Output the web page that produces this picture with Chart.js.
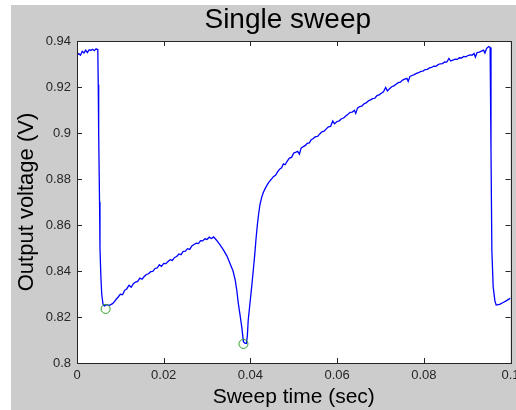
<!DOCTYPE html>
<html>
<head>
<meta charset="utf-8">
<script src="https://cdn.jsdelivr.net/npm/chart.js@4.4.1/dist/chart.umd.min.js"></script>
<style>
  html, body { margin: 0; padding: 0; background: #ffffff; }
  canvas { display: block; }
</style>
</head>
<body>
<canvas id="sweep" width="516" height="410"></canvas>
<script>
// values: [sweep time (s), output voltage (V)]
const sweepTrace = [
  [0.0000, 0.9340], [0.0004, 0.9345], [0.0008, 0.9338], [0.0012, 0.9355], [0.0016, 0.9348],
  [0.0020, 0.9360], [0.0024, 0.9350], [0.0028, 0.9362], [0.0032, 0.9359], [0.0036, 0.9364],
  [0.0040, 0.9358], [0.0044, 0.9366], [0.0048, 0.9362],
  [0.0049, 0.9210], [0.0050, 0.9000], [0.0052, 0.8700], [0.0053, 0.8500], [0.0055, 0.8380],
  [0.0057, 0.8300], [0.0060, 0.8255], [0.0063, 0.8248], [0.0068, 0.8254], [0.0075, 0.8251],
  [0.0082, 0.8258],
  [0.0085, 0.8264], [0.0090, 0.8276], [0.0095, 0.8287], [0.0100, 0.8299], [0.0105, 0.8297],
  [0.0110, 0.8316], [0.0115, 0.8323], [0.0120, 0.8338], [0.0125, 0.8329], [0.0130, 0.8345],
  [0.0135, 0.8352], [0.0140, 0.8355], [0.0145, 0.8369], [0.0150, 0.8364], [0.0155, 0.8376],
  [0.0160, 0.8385], [0.0165, 0.8388], [0.0170, 0.8397], [0.0175, 0.8398], [0.0180, 0.8411],
  [0.0185, 0.8413], [0.0190, 0.8427], [0.0195, 0.8420], [0.0200, 0.8433], [0.0205, 0.8432],
  [0.0210, 0.8441], [0.0215, 0.8449], [0.0220, 0.8446], [0.0225, 0.8459], [0.0230, 0.8463],
  [0.0235, 0.8474], [0.0240, 0.8471], [0.0245, 0.8485], [0.0250, 0.8486], [0.0255, 0.8497],
  [0.0260, 0.8494], [0.0265, 0.8509], [0.0270, 0.8515], [0.0275, 0.8521], [0.0280, 0.8519],
  [0.0285, 0.8532], [0.0290, 0.8531], [0.0295, 0.8540], [0.0300, 0.8537], [0.0305, 0.8547],
  [0.0310, 0.8541], [0.0315, 0.8548], [0.0320, 0.8538], [0.0325, 0.8527], [0.0330, 0.8514],
  [0.0338, 0.8491], [0.0346, 0.8465], [0.0353, 0.8433], [0.0360, 0.8400], [0.0365, 0.8360],
  [0.0369, 0.8310], [0.0372, 0.8260], [0.0376, 0.8210], [0.0380, 0.8157], [0.0384, 0.8092],
  [0.0388, 0.8085], [0.0391, 0.8085], [0.0393, 0.8120], [0.0395, 0.8187], [0.0399, 0.8260],
  [0.0403, 0.8332], [0.0407, 0.8410], [0.0410, 0.8470], [0.0413, 0.8540], [0.0416, 0.8600],
  [0.0419, 0.8648], [0.0422, 0.8688], [0.0426, 0.8720], [0.0430, 0.8742], [0.0434, 0.8758],
  [0.0438, 0.8772], [0.0442, 0.8784], [0.0446, 0.8794], [0.0450, 0.8803],
  [0.0453, 0.8810], [0.0458, 0.8816], [0.0463, 0.8832], [0.0468, 0.8844], [0.0472, 0.8849],
  [0.0476, 0.8866], [0.0480, 0.8862], [0.0485, 0.8878], [0.0490, 0.8891], [0.0495, 0.8894],
  [0.0500, 0.8913], [0.0504, 0.8916], [0.0509, 0.8920], [0.0513, 0.8908], [0.0517, 0.8934],
  [0.0522, 0.8941], [0.0527, 0.8946], [0.0531, 0.8955], [0.0536, 0.8957], [0.0540, 0.8970],
  [0.0545, 0.8976], [0.0550, 0.8984], [0.0555, 0.8985], [0.0560, 0.8996], [0.0565, 0.9005],
  [0.0570, 0.9008], [0.0575, 0.9018], [0.0580, 0.9027], [0.0585, 0.9029], [0.0590, 0.9052],
  [0.0594, 0.9040], [0.0600, 0.9050], [0.0605, 0.9053], [0.0610, 0.9062], [0.0615, 0.9065],
  [0.0620, 0.9074], [0.0625, 0.9081], [0.0630, 0.9090], [0.0635, 0.9091], [0.0640, 0.9099],
  [0.0643, 0.9085], [0.0647, 0.9108], [0.0652, 0.9115], [0.0657, 0.9117], [0.0662, 0.9127],
  [0.0667, 0.9131], [0.0672, 0.9139], [0.0677, 0.9144], [0.0682, 0.9149], [0.0687, 0.9151],
  [0.0692, 0.9163], [0.0697, 0.9166], [0.0702, 0.9173], [0.0707, 0.9179], [0.0712, 0.9198],
  [0.0716, 0.9183], [0.0721, 0.9192], [0.0726, 0.9201], [0.0731, 0.9205], [0.0736, 0.9212],
  [0.0741, 0.9219], [0.0746, 0.9221], [0.0751, 0.9230], [0.0756, 0.9234], [0.0761, 0.9238],
  [0.0764, 0.9224], [0.0768, 0.9246], [0.0773, 0.9250], [0.0778, 0.9254], [0.0783, 0.9259],
  [0.0788, 0.9262], [0.0793, 0.9268], [0.0798, 0.9269], [0.0803, 0.9276], [0.0808, 0.9277],
  [0.0813, 0.9283], [0.0818, 0.9285], [0.0823, 0.9291], [0.0828, 0.9290], [0.0833, 0.9297],
  [0.0838, 0.9301], [0.0843, 0.9302], [0.0848, 0.9309], [0.0853, 0.9308], [0.0858, 0.9324],
  [0.0862, 0.9313], [0.0867, 0.9317], [0.0872, 0.9321], [0.0877, 0.9320], [0.0882, 0.9327],
  [0.0887, 0.9326], [0.0892, 0.9333], [0.0897, 0.9331], [0.0902, 0.9337], [0.0907, 0.9340],
  [0.0912, 0.9339], [0.0916, 0.9346], [0.0919, 0.9330], [0.0923, 0.9350], [0.0928, 0.9352],
  [0.0933, 0.9356], [0.0938, 0.9360], [0.0941, 0.9348], [0.0945, 0.9368], [0.0950, 0.9376],
  [0.0953, 0.9372],
  [0.0955, 0.8926], [0.0957, 0.8490], [0.0960, 0.8332], [0.0964, 0.8270], [0.0967, 0.8252],
  [0.0975, 0.8255], [0.0982, 0.8262], [0.0990, 0.8270], [0.1000, 0.8282]
]

// the two minima marked with green circles
const minimaTime = [0.0066, 0.0384]
const minimaVoltage = [0.8235, 0.8083]

const xTicks = [0, 0.02, 0.04, 0.06, 0.08, 0.1]
const yTicks = [0.8, 0.82, 0.84, 0.86, 0.88, 0.9, 0.92, 0.94]

const titleText = 'Single sweep'
const xLabel = 'Sweep time (sec)'
const yLabel = 'Output voltage (V)'

const FONT = '"Liberation Sans", Arial, sans-serif'
const AXIS = '#262626'
const FIG_BG = '#cccccc'

const fmt = (v) => String(Number(v.toFixed(2)))

// matlab-ish figure: grey figure, white axes, box with inward ticks
const figurePlugin = {
	id: 'figure',
	beforeDraw(chart) {
		const { ctx, chartArea: a } = chart
		ctx.save()
		ctx.fillStyle = '#ffffff'
		ctx.fillRect(0, 0, chart.width, chart.height)
		ctx.fillStyle = FIG_BG
		ctx.fillRect(11, 5, chart.width - 11, chart.height - 5)
		ctx.fillStyle = '#ffffff'
		ctx.fillRect(a.left, a.top, a.right - a.left, a.bottom - a.top)
		ctx.restore()
	},
	afterDraw(chart) {
		const { ctx, chartArea: a, scales } = chart
		const len = 5
		ctx.save()
		ctx.strokeStyle = AXIS
		ctx.lineWidth = 1
		ctx.beginPath()
		xTicks.forEach((t) => {
			const px = Math.round(scales.x.getPixelForValue(t)) + 0.5
			ctx.moveTo(px, a.bottom); ctx.lineTo(px, a.bottom - len)
			ctx.moveTo(px, a.top); ctx.lineTo(px, a.top + len)
		})
		yTicks.forEach((t) => {
			const py = Math.round(scales.y.getPixelForValue(t)) + 0.5
			ctx.moveTo(a.left, py); ctx.lineTo(a.left + len, py)
			ctx.moveTo(a.right, py); ctx.lineTo(a.right - len, py)
		})
		ctx.stroke()
		ctx.strokeRect(Math.round(a.left) + 0.5, Math.round(a.top) + 0.5,
			Math.round(a.right - a.left), Math.round(a.bottom - a.top))

		// title
		ctx.fillStyle = '#000000'
		ctx.font = `28px ${FONT}`
		ctx.textAlign = 'center'
		ctx.textBaseline = 'alphabetic'
		ctx.fillText(titleText, (a.left + a.right) / 2 - 6, 28)
		ctx.restore()
	},
}

const chart = new Chart(document.getElementById('sweep'), {
	type: 'line',
	data: {
		datasets: [
			{
				data: sweepTrace.map(([x, y]) => ({ x, y })),
				borderColor: '#0000ff',
				borderWidth: 1.3,
				pointRadius: 0,
				tension: 0,
				order: 2,
			},
			{
				data: minimaTime.map((x, i) => ({ x, y: minimaVoltage[i] })),
				showLine: false,
				pointRadius: 4.5,
				pointBorderWidth: 1,
				pointBorderColor: '#2ca02c',
				pointBackgroundColor: 'rgba(0,0,0,0)',
				order: 1,
			},
		],
	},
	options: {
		responsive: false,
		animation: false,
		events: [],
		layout: { padding: { left: 11, top: 41, right: 5, bottom: 0 } },
		plugins: { legend: { display: false }, tooltip: { enabled: false }, title: { display: false } },
		scales: {
			x: {
				type: 'linear',
				min: 0,
				max: 0.1,
				afterBuildTicks: (s) => { s.ticks = xTicks.map((value) => ({ value })) },
				afterFit: (s) => { s.height = 47; s.paddingLeft = 0; s.paddingRight = 0 },
				grid: { drawOnChartArea: false, drawTicks: false },
				border: { display: false },
				ticks: {
					color: AXIS,
					padding: 5,
					maxRotation: 0,
					font: { family: FONT, size: 13 },
					callback: (v) => fmt(v),
				},
				title: {
					display: true,
					text: xLabel,
					color: '#000000',
					padding: { top: 0, bottom: 0 },
					font: { family: FONT, size: 21 },
				},
			},
			y: {
				type: 'linear',
				min: 0.8,
				max: 0.94,
				afterBuildTicks: (s) => { s.ticks = yTicks.map((value) => ({ value })) },
				afterFit: (s) => { s.width = 66; s.paddingTop = 0; s.paddingBottom = 0 },
				grid: { drawOnChartArea: false, drawTicks: false },
				border: { display: false },
				ticks: {
					color: AXIS,
					padding: 6,
					font: { family: FONT, size: 13 },
					callback: (v) => fmt(v),
				},
				title: {
					display: true,
					text: yLabel,
					color: '#000000',
					padding: { top: 3, bottom: 0 },
					font: { family: FONT, size: 22 },
				},
			},
		},
	},
	plugins: [figurePlugin],
})
</script>
</body>
</html>
